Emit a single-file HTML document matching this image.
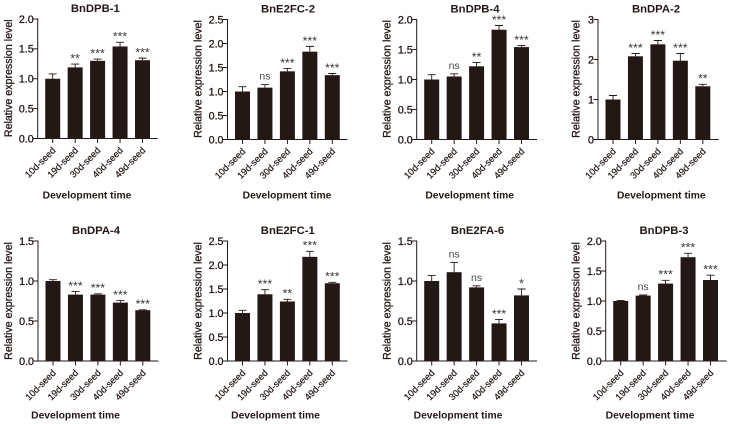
<!DOCTYPE html>
<html lang="en">
<head>
<meta charset="utf-8">
<title>Relative expression level by development time</title>
<style>
html,body{margin:0;padding:0;background:#fff;width:730px;height:424px;overflow:hidden}
svg{display:block;filter:blur(0.3px)}
text{font-family:"Liberation Sans",sans-serif;fill:#231815}
.tick{font-size:10.7px;stroke:#231815;stroke-width:.3px}
.cat{font-size:9.3px;stroke:#231815;stroke-width:.22px}
.ytitle{font-size:10.65px;stroke:#231815;stroke-width:.3px}
.xtitle{font-size:10.3px;font-weight:bold}
.title{font-size:11.3px;font-weight:bold}
.stars{font-size:12.3px;fill:#3a3533}
.ns{font-size:10.5px;fill:#4a4543}
</style>
</head>
<body>
<svg id="chart" xmlns="http://www.w3.org/2000/svg" width="730" height="424" viewBox="0 0 730 424"></svg>
<script>
const categories = ["10d-seed", "19d-seed", "30d-seed", "40d-seed", "49d-seed"];

const ticks2 = ["0.0", "0.5", "1.0", "1.5", "2.0"];
const ticks25 = ["0.0", "0.5", "1.0", "1.5", "2.0", "2.5"];
const ticks15 = ["0.0", "0.5", "1.0", "1.5"];
const ticks3 = ["0", "1", "2", "3"];

const bnDPB1Values = [1.0, 1.19, 1.30, 1.54, 1.31];
const bnDPB1Errors = [0.08, 0.055, 0.03, 0.07, 0.035];
const bnDPB1Sig = ["", "**", "***", "***", "***"];

const bnE2FC2Values = [1.0, 1.08, 1.42, 1.83, 1.34];
const bnE2FC2Errors = [0.10, 0.065, 0.06, 0.11, 0.035];
const bnE2FC2Sig = ["", "ns", "***", "***", "***"];

const bnDPB4Values = [1.0, 1.05, 1.22, 1.83, 1.54];
const bnDPB4Errors = [0.08, 0.045, 0.065, 0.07, 0.025];
const bnDPB4Sig = ["", "ns", "**", "***", "***"];

const bnDPA2Values = [1.0, 2.08, 2.38, 1.97, 1.33];
const bnDPA2Errors = [0.10, 0.07, 0.095, 0.18, 0.05];
const bnDPA2Sig = ["", "***", "***", "***", "**"];

const bnDPA4Values = [1.0, 0.83, 0.83, 0.73, 0.635];
const bnDPA4Errors = [0.017, 0.04, 0.01, 0.025, 0.005];
const bnDPA4Sig = ["", "***", "***", "***", "***"];

const bnE2FC1Values = [1.0, 1.39, 1.24, 2.17, 1.62];
const bnE2FC1Errors = [0.055, 0.095, 0.045, 0.115, 0.02];
const bnE2FC1Sig = ["", "***", "**", "***", "***"];

const bnE2FA6Values = [1.0, 1.11, 0.92, 0.47, 0.82];
const bnE2FA6Errors = [0.07, 0.12, 0.02, 0.05, 0.08];
const bnE2FA6Sig = ["", "ns", "ns", "***", "*"];

const bnDPB3Values = [1.0, 1.09, 1.29, 1.73, 1.35];
const bnDPB3Errors = [0.01, 0.01, 0.055, 0.065, 0.08];
const bnDPB3Sig = ["", "ns", "***", "***", "***"];

const NS = "http://www.w3.org/2000/svg";
const root = document.getElementById("chart");
const INK = "#231815";

function make(parent, tag, props, content) {
  const el = document.createElementNS(NS, tag);
  for (const k in props) el.setAttribute(k, props[k]);
  if (content !== undefined) el.textContent = content;
  parent.appendChild(el);
  return el;
}

function drawPanel(title, values, errors, sig, ticks, box) {
  const yMax = parseFloat(ticks[ticks.length - 1]);
  const y = v => box.bottom - (v / yMax) * (box.bottom - box.top);
  const x = i => box.axis + 15 + i * 22.45;
  const slug = title.toLowerCase();

  const g = make(root, "g", {});
  
  

  const t = make(g, "text", {x: box.titleX, y: box.top - 7.2, "text-anchor": "middle", class: "title"}, title);
  
  

  values.forEach((v, i) => {
    const cx = x(i);
    const bar = make(g, "rect", {x: cx - 7.5, y: y(v), width: 15, height: box.bottom - y(v), fill: INK});
    
    

    const topY = y(v + errors[i]);
    const err = make(g, "path", {
      d: "M" + cx + " " + y(v) + "V" + topY + "M" + (cx - 4) + " " + topY + "H" + (cx + 4),
      stroke: INK, "stroke-width": 0.9, fill: "none"
    });
    
    

    if (sig[i]) {
      const isNs = sig[i] === "ns";
      const s = make(g, "text", {
        x: cx,
        y: isNs ? topY - 5 : topY - 1.6,
        "text-anchor": "middle",
        class: isNs ? "ns" : "stars"
      }, sig[i]);
      
      
    }

    const tick = make(g, "line", {x1: cx, x2: cx, y1: box.bottom, y2: box.bottom + 4.5, stroke: INK, "stroke-width": 1});
    
    

    const lx = cx + 3.5;
    const ly = box.bottom + 12.5;
    const c = make(g, "text", {x: lx, y: ly, "text-anchor": "end", class: "cat", transform: "rotate(-45 " + lx + " " + ly + ")"}, categories[i]);
    
    
  });

  ticks.forEach(label => {
    const v = parseFloat(label);
    const tk = make(g, "line", {x1: box.axis - 4.5, x2: box.axis, y1: y(v), y2: y(v), stroke: INK, "stroke-width": 1});
    
    
    const tl = make(g, "text", {x: box.axis - 4, y: y(v) + 3.8, "text-anchor": "end", class: "tick"}, label);
    
    
  });

  const axes = make(g, "path", {
    d: "M" + box.axis + " " + (box.top - 0.5) + "V" + box.bottom + "H" + box.right,
    stroke: INK, "stroke-width": 1, fill: "none"
  });
  
  

  const midY = (box.top + box.bottom) / 2 + (box.bottom > 300 ? 0 : -0.5);
  const yt = make(g, "text", {x: box.yTitleX, y: midY, "text-anchor": "middle", class: "ytitle", transform: "rotate(-90 " + box.yTitleX + " " + midY + ")"}, "Relative expression level");
  
  

  const xt = make(g, "text", {x: box.xTitleX, y: box.xTitleY, "text-anchor": "middle", class: "xtitle"}, "Development time");
  
  
}

drawPanel("BnDPB-1", bnDPB1Values, bnDPB1Errors, bnDPB1Sig, ticks2,
  {axis: 37.7, right: 157.5, top: 19, bottom: 138.5, titleX: 95.3, yTitleX: 12, xTitleX: 87, xTitleY: 198.5});
drawPanel("BnE2FC-2", bnE2FC2Values, bnE2FC2Errors, bnE2FC2Sig, ticks25,
  {axis: 227.5, right: 347.5, top: 19.5, bottom: 139.5, titleX: 288, yTitleX: 201.5, xTitleX: 287, xTitleY: 198.5});
drawPanel("BnDPB-4", bnDPB4Values, bnDPB4Errors, bnDPB4Sig, ticks2,
  {axis: 416.7, right: 537, top: 19.5, bottom: 139.5, titleX: 475, yTitleX: 390.5, xTitleX: 469.7, xTitleY: 198.5});
drawPanel("BnDPA-2", bnDPA2Values, bnDPA2Errors, bnDPA2Sig, ticks3,
  {axis: 598, right: 718.7, top: 19.5, bottom: 139.5, titleX: 656, yTitleX: 579.5, xTitleX: 661.3, xTitleY: 198.5});
drawPanel("BnDPA-4", bnDPA4Values, bnDPA4Errors, bnDPA4Sig, ticks15,
  {axis: 38, right: 158.5, top: 241, bottom: 361, titleX: 96, yTitleX: 12, xTitleX: 75.5, xTitleY: 418.5});
drawPanel("BnE2FC-1", bnE2FC1Values, bnE2FC1Errors, bnE2FC1Sig, ticks25,
  {axis: 227.5, right: 347.5, top: 241, bottom: 361, titleX: 287.8, yTitleX: 201.5, xTitleX: 275.5, xTitleY: 418.5});
drawPanel("BnE2FA-6", bnE2FA6Values, bnE2FA6Errors, bnE2FA6Sig, ticks15,
  {axis: 416.7, right: 537, top: 241, bottom: 361, titleX: 477.5, yTitleX: 390.5, xTitleX: 458, xTitleY: 418.5});
drawPanel("BnDPB-3", bnDPB3Values, bnDPB3Errors, bnDPB3Sig, ticks2,
  {axis: 605.7, right: 726.7, top: 241, bottom: 361, titleX: 664, yTitleX: 579.5, xTitleX: 650, xTitleY: 418.5});
</script>
</body>
</html>
